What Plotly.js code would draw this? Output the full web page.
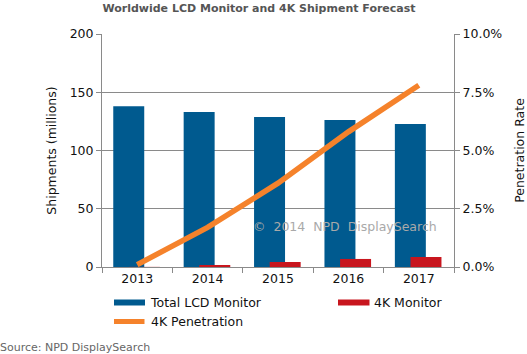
<!DOCTYPE html>
<html>
<head>
<meta charset="utf-8">
<script src="https://cdn.plot.ly/plotly-3.0.1.min.js"></script>
<style>html,body{margin:0;padding:0;background:#fff;}#chart{width:527px;height:354px;}</style>
</head>
<body>
<div id="chart"></div>
<script>
// ---- data ----
const years = ["2013", "2014", "2015", "2016", "2017"];
const totalLCD = [138, 133, 128.8, 126.2, 122.7];       // millions
const monitor4K = [0.1, 1.7, 4.3, 6.9, 8.6];           // millions
const penetration4K = [0.1, 1.7, 3.6, 5.8, 7.8];        // percent
const leftTicks = [0, 50, 100, 150, 200];
const rightTicks = [0, 2.5, 5, 7.5, 10];
const rightTickLabels = ["0.0%", "2.5%", "5.0%", "7.5%", "10.0%"];

// ---- styles ----
const W = 527, H = 354;
const M = {l: 102, r: 73, t: 34, b: 87};
const PW = W - M.l - M.r, PH = H - M.t - M.b;
const px = x => (x - M.l) / PW;
const py = y => (H - M.b - y) / PH;
const FONT = "DejaVu Sans, Verdana, sans-serif";
const BLUE = "#005a8f", RED = "#c8161e", ORANGE = "#f5822b", GRID = "#8a8a8a";

const traces = [
  {type: "bar", name: "Total LCD Monitor", x: years, y: totalLCD,
   marker: {color: BLUE}, offset: -0.34, width: 0.44, showlegend: false, hoverinfo: "y"},
  {type: "bar", name: "4K Monitor", x: years, y: monitor4K,
   marker: {color: RED}, offset: -0.118, width: 0.44, showlegend: false, hoverinfo: "y"},
  {type: "scatter", mode: "lines", name: "4K Penetration", x: years, y: penetration4K,
   yaxis: "y2", line: {color: ORANGE, width: 5.5}, showlegend: false, hoverinfo: "y"}
];

const tickFont = {family: FONT, size: 12.5, color: "#111"};
const layout = {
  width: W, height: H, margin: M,
  paper_bgcolor: "#fff", plot_bgcolor: "#fff",
  barmode: "overlay", showlegend: false,
  title: {text: "Worldwide LCD Monitor and 4K Shipment Forecast",
          font: {family: FONT, size: 11, color: "#555", weight: "bold"},
          x: 0.4915, xref: "container", xanchor: "center",
          y: 1 - 8 / H, yref: "container", yanchor: "middle"},
  xaxis: {type: "category", tickfont: tickFont, showgrid: false,
          showline: true, linecolor: GRID, linewidth: 1,
          ticks: "outside", tickson: "boundaries", ticklen: 5, tickcolor: GRID,
          fixedrange: true},
  yaxis: {range: [0, 200], tickvals: leftTicks, tickfont: tickFont,
          showgrid: true, gridcolor: GRID, gridwidth: 1, zeroline: false,
          showline: true, linecolor: GRID, linewidth: 1,
          ticks: "outside", ticklen: 5, tickcolor: GRID,
          title: {text: "Shipments (millions)", font: {family: FONT, size: 12.5, color: "#111"}, standoff: 10},
          fixedrange: true},
  yaxis2: {range: [0, 10], overlaying: "y", side: "right",
           tickvals: rightTicks, ticktext: rightTickLabels, tickfont: tickFont,
           showgrid: false, zeroline: false,
           showline: true, linecolor: GRID, linewidth: 1,
           ticks: "outside", ticklen: 5, tickcolor: GRID,
           title: {text: "Penetration Rate", font: {family: FONT, size: 12.5, color: "#111"}, standoff: 13},
           fixedrange: true},
  shapes: [
    {type: "rect", xref: "paper", yref: "paper", x0: px(114), x1: px(145), y0: py(299.5), y1: py(305.5),
     fillcolor: BLUE, line: {width: 0}},
    {type: "rect", xref: "paper", yref: "paper", x0: px(338), x1: px(369.5), y0: py(299.5), y1: py(305.5),
     fillcolor: RED, line: {width: 0}},
    {type: "line", xref: "paper", yref: "paper", x0: px(114), x1: px(144.5), y0: py(321.5), y1: py(321.5),
     line: {color: ORANGE, width: 5}}
  ],
  annotations: [
    {text: "Total LCD Monitor", xref: "paper", yref: "paper", x: px(148), y: py(302.5),
     xanchor: "left", yanchor: "middle", showarrow: false, font: {family: FONT, size: 12.5, color: "#111"}},
    {text: "4K Monitor", xref: "paper", yref: "paper", x: px(372), y: py(302.5),
     xanchor: "left", yanchor: "middle", showarrow: false, font: {family: FONT, size: 12.5, color: "#111"}},
    {text: "4K Penetration", xref: "paper", yref: "paper", x: px(149), y: py(321.5),
     xanchor: "left", yanchor: "middle", showarrow: false, font: {family: FONT, size: 12.5, color: "#111"}},
    {text: "©  2014  NPD  DisplaySearch", xref: "paper", yref: "paper", x: px(251), y: py(226),
     xanchor: "left", yanchor: "middle", showarrow: false, font: {family: FONT, size: 12.5, color: "#a9a9a9"}},
    {text: "Source: NPD DisplaySearch", xref: "paper", yref: "paper", x: px(-2), y: py(347.5),
     xanchor: "left", yanchor: "middle", showarrow: false, font: {family: FONT, size: 11, color: "#666"}}
  ]
};

Plotly.newPlot("chart", traces, layout, {staticPlot: true, displayModeBar: false});
</script>
</body>
</html>
